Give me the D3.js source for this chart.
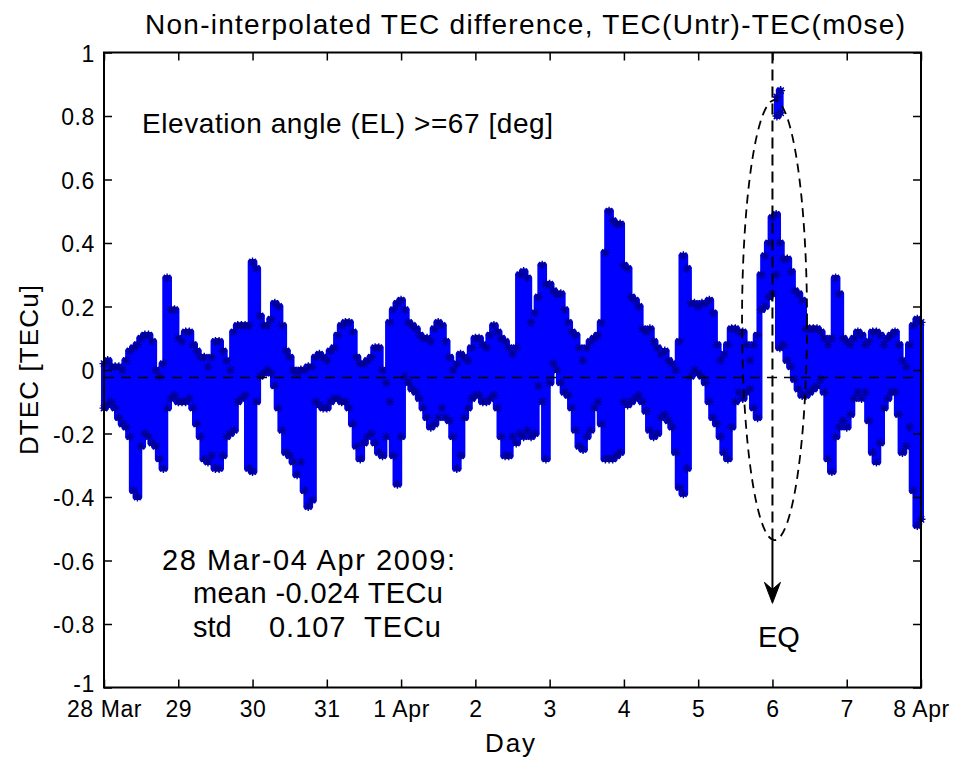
<!DOCTYPE html>
<html><head><meta charset="utf-8">
<script src="https://cdn.jsdelivr.net/npm/d3@7"></script>
<style>
body{margin:0;background:#fff;}
svg{display:block;font-family:"Liberation Sans",Arial,Helvetica,sans-serif;}
</style></head><body>
<svg id="chart" width="957" height="765"></svg>
<script>
// Day ticks, counted from 28 Mar 2009 00:00
const xTicks = [0,1,2,3,4,5,6,7,8,9,10,11];
const xTickLabels = ["28 Mar","29","30","31","1 Apr","2","3","4","5","6","7","8 Apr"];
const yTicks = [1,0.8,0.6,0.4,0.2,0,-0.2,-0.4,-0.6,-0.8,-1];
const yTickLabels = ["1","0.8","0.6","0.4","0.2","0","-0.2","-0.4","-0.6","-0.8","-1"];

// DTEC envelope (upper / lower extent of all tracks) every 0.05 day
const sampleStep = 0.05;
const dtecHigh = [
 0.02,0.03,0.01,0.01,0.01,0.00,0.03,0.06,0.07,0.08,
 0.10,0.11,0.11,0.09,0.00,-0.02,0.02,0.29,0.19,0.19,
 0.10,0.09,0.12,0.12,0.08,0.06,0.04,0.04,0.01,0.04,
 0.09,0.09,0.06,0.03,0.00,0.12,0.14,0.14,0.14,0.14,
 0.34,0.32,0.17,0.14,0.14,0.16,0.21,0.20,0.14,0.06,
 0.04,0.00,-0.01,0.00,0.00,0.01,0.01,0.04,0.05,0.04,
 0.03,0.06,0.07,0.11,0.14,0.15,0.15,0.12,0.04,0.02,
 0.02,0.03,0.04,0.07,0.07,0.00,-0.04,0.15,0.19,0.21,
 0.22,0.19,0.15,0.14,0.13,0.11,0.10,0.10,0.09,0.13,
 0.15,0.14,0.09,0.04,0.00,0.02,0.05,0.04,0.03,0.07,
 0.10,0.10,0.08,0.07,0.11,0.14,0.12,0.10,0.09,0.07,
 0.05,0.07,0.30,0.31,0.29,0.15,0.18,0.23,0.33,0.27,
 0.27,0.25,0.24,0.24,0.19,0.15,0.12,0.11,0.07,0.03,
 0.07,0.09,0.10,0.11,0.15,0.37,0.50,0.47,0.46,0.46,
 0.33,0.32,0.23,0.22,0.20,0.13,0.12,0.13,0.09,0.07,
 0.05,0.06,0.03,0.02,0.00,0.09,0.36,0.32,0.21,0.21,
 0.20,0.21,0.21,0.22,0.18,0.08,0.03,0.05,0.08,0.13,
 0.13,0.12,0.12,0.08,0.03,0.08,0.11,0.30,0.36,0.40,
 0.48,0.49,0.40,0.35,0.35,0.31,0.25,0.24,0.22,0.13,
 0.13,0.13,0.13,0.12,0.10,0.08,0.10,0.29,0.24,0.10,
 0.09,0.08,0.10,0.12,0.11,0.08,0.09,0.12,0.12,0.11,
 0.08,0.10,0.11,0.12,0.08,0.03,0.01,0.08,0.14,0.16,0.15
];
const dtecLow = [
 -0.12,-0.11,-0.10,-0.12,-0.15,-0.17,-0.18,-0.21,-0.38,-0.40,
 -0.24,-0.20,-0.21,-0.23,-0.24,-0.28,-0.31,-0.12,-0.09,-0.08,
 -0.10,-0.10,-0.10,-0.09,-0.12,-0.17,-0.21,-0.28,-0.29,-0.27,
 -0.31,-0.31,-0.27,-0.21,-0.20,-0.19,-0.10,-0.09,-0.08,-0.31,
 -0.32,-0.10,-0.02,-0.01,0.00,-0.01,-0.05,-0.12,-0.19,-0.26,
 -0.27,-0.29,-0.33,-0.29,-0.38,-0.43,-0.41,-0.10,-0.11,-0.12,
 -0.12,-0.10,-0.09,-0.09,-0.10,-0.10,-0.12,-0.17,-0.24,-0.28,
 -0.23,-0.21,-0.20,-0.23,-0.26,-0.27,-0.21,-0.10,-0.27,-0.36,
 -0.21,-0.02,-0.04,-0.06,-0.07,-0.09,-0.12,-0.15,-0.18,-0.17,
 -0.15,-0.12,-0.15,-0.16,-0.21,-0.31,-0.27,-0.15,-0.12,-0.09,
 -0.08,-0.08,-0.10,-0.10,-0.09,-0.08,-0.12,-0.21,-0.27,-0.27,
 -0.21,-0.23,-0.20,-0.21,-0.19,-0.21,-0.20,-0.05,-0.10,-0.28,
 -0.04,0.02,0.00,-0.04,-0.07,-0.08,-0.12,-0.19,-0.24,-0.25,
 -0.21,-0.19,-0.12,-0.10,-0.17,-0.28,-0.28,-0.28,-0.27,-0.26,
 -0.10,-0.11,-0.10,-0.09,-0.08,-0.10,-0.13,-0.19,-0.21,-0.20,
 -0.15,-0.14,-0.16,-0.18,-0.26,-0.37,-0.39,-0.31,-0.02,0.00,
 -0.01,-0.02,-0.04,-0.10,-0.15,-0.17,-0.21,-0.26,-0.28,-0.18,
 -0.10,-0.07,-0.09,-0.07,-0.06,-0.12,-0.15,0.19,0.20,0.23,
 0.24,0.30,0.07,0.08,0.03,0.01,-0.03,-0.06,-0.08,-0.08,
 -0.07,-0.06,-0.05,-0.03,-0.07,-0.28,-0.32,-0.21,-0.18,-0.16,
 -0.18,-0.14,-0.09,-0.07,-0.09,-0.07,-0.16,-0.26,-0.29,-0.23,
 -0.12,-0.09,-0.07,-0.07,-0.14,-0.26,-0.24,-0.18,-0.38,-0.49,-0.47
];
// isolated high cluster on 6 Apr
const burstDays = [9.06, 9.11];
const burstHigh = [0.86, 0.88];
const burstLow  = [0.80, 0.81];

const meanVal = -0.024;
const stdVal = 0.107;
const eqDay = 9;            // 6 Apr
const eqEllipse = {day: 9.028, val: 0.157, halfDays: 0.4376, halfVal: 0.693};
const eqArrowTip = -0.735;

const svg = d3.select("#chart");
const x = d3.scaleLinear().domain([0, 11]).range([104, 921]);
const y = d3.scaleLinear().domain([-1, 1]).range([687.5, 52.5]);

// data envelope, drawn as stacked marker columns
const series = dtecHigh.map((h, i) => ({day: i * sampleStep, hi: h, lo: dtecLow[i]}));
const burst = burstDays.map((d, i) => ({day: d, hi: burstHigh[i], lo: burstLow[i]}));
const area = d3.area().curve(d3.curveStep)
  .x(d => x(d.day)).y0(d => y(d.lo)).y1(d => y(d.hi));
const blue = "#0000ff", edge = "#000096";
const star = "M-4.5,0L4.5,0M0,-4.5L0,4.5M-3.2,-3.2L3.2,3.2M-3.2,3.2L3.2,-3.2";

const plot = svg.append("g");
[series, burst].forEach(s => {
  plot.append("path").datum(s).attr("d", area)
    .attr("fill", blue).attr("stroke", blue).attr("stroke-width", 6)
    .attr("stroke-linejoin", "round");
  const pts = s.flatMap(d => [{day: d.day, v: d.hi}, {day: d.day, v: d.lo}]);
  plot.append("g").selectAll("path").data(pts).join("path")
    .attr("transform", d => `translate(${x(d.day)},${y(d.v)})`)
    .attr("d", star).attr("fill", "none").attr("stroke", edge).attr("stroke-width", 1.4);
});

// mean level
svg.append("line")
  .attr("x1", x(0)).attr("x2", x(11)).attr("y1", y(meanVal)).attr("y2", y(meanVal))
  .attr("stroke", "#000").attr("stroke-width", 1.5).attr("stroke-dasharray", "10,7");

// earthquake marker: ellipse, vertical line, arrow
svg.append("ellipse")
  .attr("cx", x(eqEllipse.day)).attr("cy", y(eqEllipse.val))
  .attr("rx", x(eqEllipse.day + eqEllipse.halfDays) - x(eqEllipse.day))
  .attr("ry", y(eqEllipse.val - eqEllipse.halfVal) - y(eqEllipse.val))
  .attr("fill", "none").attr("stroke", "#000").attr("stroke-width", 1.8)
  .attr("stroke-dasharray", "9,6");
const ellBottom = eqEllipse.val - eqEllipse.halfVal;
svg.append("line")
  .attr("x1", x(eqDay)).attr("x2", x(eqDay)).attr("y1", y(1)).attr("y2", y(ellBottom))
  .attr("stroke", "#000").attr("stroke-width", 2).attr("stroke-dasharray", "11,6");
const tipX = x(eqDay), tipY = y(eqArrowTip);
svg.append("line")
  .attr("x1", tipX).attr("x2", tipX).attr("y1", y(ellBottom)).attr("y2", tipY - 4)
  .attr("stroke", "#000").attr("stroke-width", 2);
svg.append("path")
  .attr("d", `M${tipX},${tipY}L${tipX - 8},${tipY - 21}L${tipX},${tipY - 14}L${tipX + 8},${tipY - 21}Z`)
  .attr("fill", "#000").attr("stroke", "#000").attr("stroke-width", 1).attr("stroke-linejoin", "miter");

// axes box and ticks
const fontTick = 23;
const styleAxis = g => {
  g.select(".domain").remove();
  g.selectAll(".tick line").attr("stroke", "#000").attr("stroke-width", 1.5);
  g.selectAll("text").attr("font-size", fontTick).attr("fill", "#000")
    .attr("font-family", '"Liberation Sans",Arial,sans-serif').attr("letter-spacing", 0.6);
};
svg.append("g").attr("transform", `translate(0,${y(-1)})`)
  .call(d3.axisBottom(x).tickValues(xTicks).tickFormat((d, i) => xTickLabels[i])
    .tickSizeInner(-8).tickSizeOuter(0).tickPadding(13))
  .call(styleAxis);
svg.append("g").attr("transform", `translate(0,${y(1)})`)
  .call(d3.axisTop(x).tickValues(xTicks).tickFormat("").tickSizeInner(-8).tickSizeOuter(0))
  .call(styleAxis);
svg.append("g").attr("transform", `translate(${x(0)},0)`)
  .call(d3.axisLeft(y).tickValues(yTicks).tickFormat((d, i) => yTickLabels[i])
    .tickSizeInner(-8).tickSizeOuter(0).tickPadding(9))
  .call(styleAxis)
  .call(g => g.selectAll("text").attr("dy", d => d === -1 ? "0.18em" : "0.38em"));
svg.append("g").attr("transform", `translate(${x(11)},0)`)
  .call(d3.axisRight(y).tickValues(yTicks).tickFormat("").tickSizeInner(-8).tickSizeOuter(0))
  .call(styleAxis);
svg.append("rect")
  .attr("x", x(0)).attr("y", y(1)).attr("width", x(11) - x(0)).attr("height", y(-1) - y(1))
  .attr("fill", "none").attr("stroke", "#000").attr("stroke-width", 2);

// texts
const txt = (s, px, py, size, len) => {
  const t = svg.append("text").attr("x", px).attr("y", py).attr("font-size", size)
    .attr("fill", "#000").text(s);
  if (len) t.attr("textLength", len).attr("lengthAdjust", "spacing");
  return t;
};
txt("Non-interpolated TEC difference, TEC(Untr)-TEC(m0se)", 145, 34, 28, 760);
txt("Elevation angle (EL) >=67 [deg]", 142, 133, 28, 411);
txt("28 Mar-04 Apr 2009:", 162, 570, 29, 293);
txt(`mean ${meanVal.toFixed(3)} TECu`, 193, 603, 29, 250);
txt("std", 193, 637, 29);
txt(`${stdVal.toFixed(3)}  TECu`, 269, 637, 29, 172).attr("xml:space", "preserve");
txt("EQ", 758, 647, 29);
txt("Day", 485, 752, 26, 50);
svg.append("text").attr("transform", "translate(38,455) rotate(-90)")
  .attr("font-size", 26).attr("fill", "#000")
  .attr("textLength", 170).attr("lengthAdjust", "spacing").text("DTEC [TECu]");
</script>
</body></html>
